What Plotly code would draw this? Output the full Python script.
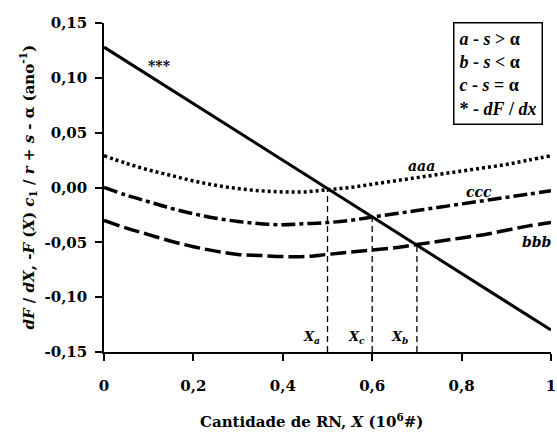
import plotly.graph_objects as go

# Data
x_vals = [0.00, 0.05, 0.10, 0.15, 0.20, 0.25, 0.30, 0.35, 0.40, 0.45, 0.50,
          0.55, 0.60, 0.65, 0.70, 0.75, 0.80, 0.85, 0.90, 0.95, 1.00]
aaa = [0.029, 0.022, 0.016, 0.011, 0.006, 0.002, -0.001, -0.003, -0.004, -0.004, -0.002,
       0.000, 0.003, 0.006, 0.009, 0.012, 0.015, 0.018, 0.021, 0.025, 0.029]
ccc = [0.000, -0.007, -0.013, -0.019, -0.024, -0.028, -0.031, -0.033, -0.034, -0.033, -0.032,
       -0.030, -0.027, -0.024, -0.021, -0.018, -0.015, -0.012, -0.009, -0.006, -0.003]
bbb = [-0.030, -0.037, -0.043, -0.049, -0.054, -0.058, -0.061, -0.062, -0.063, -0.063, -0.061,
       -0.059, -0.057, -0.055, -0.052, -0.049, -0.046, -0.043, -0.039, -0.035, -0.032]
dF_x = [0.0, 1.0]
dF_y = [0.128, -0.130]

crit_x = [0.5, 0.6, 0.7]
crit_y = [-0.002, -0.027, -0.053]
crit_labels = ["<i>X</i><sub><i>a</i></sub>", "<i>X</i><sub><i>c</i></sub>", "<i>X</i><sub><i>b</i></sub>"]
crit_label_x = [0.465, 0.565, 0.66]

x_ticks = [0, 0.2, 0.4, 0.6, 0.8, 1.0]
x_ticktext = ["0", "0,2", "0,4", "0,6", "0,8", "1"]
y_ticks = [-0.15, -0.10, -0.05, 0.0, 0.05, 0.10, 0.15]
y_ticktext = ["-0,15", "-0,10", "-0,05", "0,00", "0,05", "0,10", "0,15"]

FONT = "DejaVu Serif"
LFONT = "Liberation Serif"

fig = go.Figure()

# vertical dashed lines
for cx, cy in zip(crit_x, crit_y):
    fig.add_trace(go.Scatter(x=[cx, cx], y=[-0.15, cy], mode="lines",
                             line=dict(color="black", width=1.3, dash="6px,4px"),
                             showlegend=False, hoverinfo="skip"))

fig.add_trace(go.Scatter(x=x_vals, y=aaa, mode="lines", line=dict(color="black", width=3.5, dash="3px,3px"),
                         line_shape="spline", showlegend=False))
fig.add_trace(go.Scatter(x=x_vals, y=ccc, mode="lines", line=dict(color="black", width=3.5, dash="14px,4px,4px,4px"),
                         line_shape="spline", showlegend=False))
fig.add_trace(go.Scatter(x=x_vals, y=bbb, mode="lines", line=dict(color="black", width=3.5, dash="16px,5px"),
                         line_shape="spline", showlegend=False))
fig.add_trace(go.Scatter(x=dF_x, y=dF_y, mode="lines", line=dict(color="black", width=3),
                         showlegend=False))

annots = []
curve_labels = [("***", 0.125, 0.111), ("aaa", 0.71, 0.020), ("ccc", 0.838, -0.004), ("bbb", 0.968, -0.050)]
for txt, ax, ay in curve_labels:
    annots.append(dict(x=ax, y=ay, xref="x", yref="y", text=f"<b><i>{txt}</i></b>" if txt != "***" else "<b>***</b>",
                       showarrow=False, font=dict(family=FONT, size=14, color="black")))
for lab, lx in zip(crit_labels, crit_label_x):
    annots.append(dict(x=lx, y=-0.137, xref="x", yref="y", text=f"<b>{lab}</b>", showarrow=False,
                       font=dict(family=FONT, size=13, color="black")))

legend_text = ("<b><i>a</i> - <i>s</i> &gt; α<br>"
               "<i>b</i> - <i>s</i> &lt; α<br>"
               "<i>c</i> - <i>s</i> = α<br>"
               "* - <i>dF</i> / <i>dx</i></b>")
annots.append(dict(x=0.982, y=1.003, xref="paper", yref="paper", xanchor="right", yanchor="top",
                   text=legend_text, showarrow=False, align="left",
                   font=dict(family=LFONT, size=18, color="black"),
                   bordercolor="black", borderwidth=1.5, borderpad=5, bgcolor="white"))

# axis titles as annotations
annots.append(dict(x=0.465, y=-0.21, xref="paper", yref="paper", yanchor="middle",
                   text="<b>Cantidade de RN, <i>X</i> (10<sup>6</sup>#)</b>", showarrow=False,
                   font=dict(family=FONT, size=15, color="black")))
annots.append(dict(x=-0.17, y=0.5, xref="paper", yref="paper", xanchor="center", yanchor="middle",
                   textangle=-90,
                   text="<b><i>dF</i> / <i>dX</i>, -<i>F</i> (<i>X</i>) <i>c</i><sub>1</sub> / <i>r</i> + <i>s</i> - α (ano<sup>-1</sup>)</b>",
                   showarrow=False, font=dict(family=FONT, size=15, color="black")))

fig.update_layout(
    width=557, height=432,
    margin=dict(l=104, r=6, t=23, b=80),
    paper_bgcolor="white", plot_bgcolor="white",
    font=dict(family=FONT, size=15, color="black"),
    annotations=annots,
    xaxis=dict(range=[0, 1], tickvals=x_ticks, ticktext=x_ticktext, showgrid=False, zeroline=False,
               showline=True, linecolor="black", linewidth=1.5, ticks="outside", ticklen=7,
               tickcolor="black", tickwidth=1.5, tickfont=dict(family=FONT, size=15, weight="bold"),
               ticklabelstandoff=12, automargin=False),
    yaxis=dict(range=[-0.15, 0.15], tickvals=y_ticks, ticktext=y_ticktext, showgrid=False, zeroline=False,
               showline=True, linecolor="black", linewidth=1.5, ticks="outside", ticklen=7,
               tickcolor="black", tickwidth=1.5, tickfont=dict(family=FONT, size=15, weight="bold"),
               ticklabelstandoff=5, automargin=False),
)

fig.write_html("out.html", config={"displayModeBar": False},
               post_script="document.body.style.margin='0px';")
